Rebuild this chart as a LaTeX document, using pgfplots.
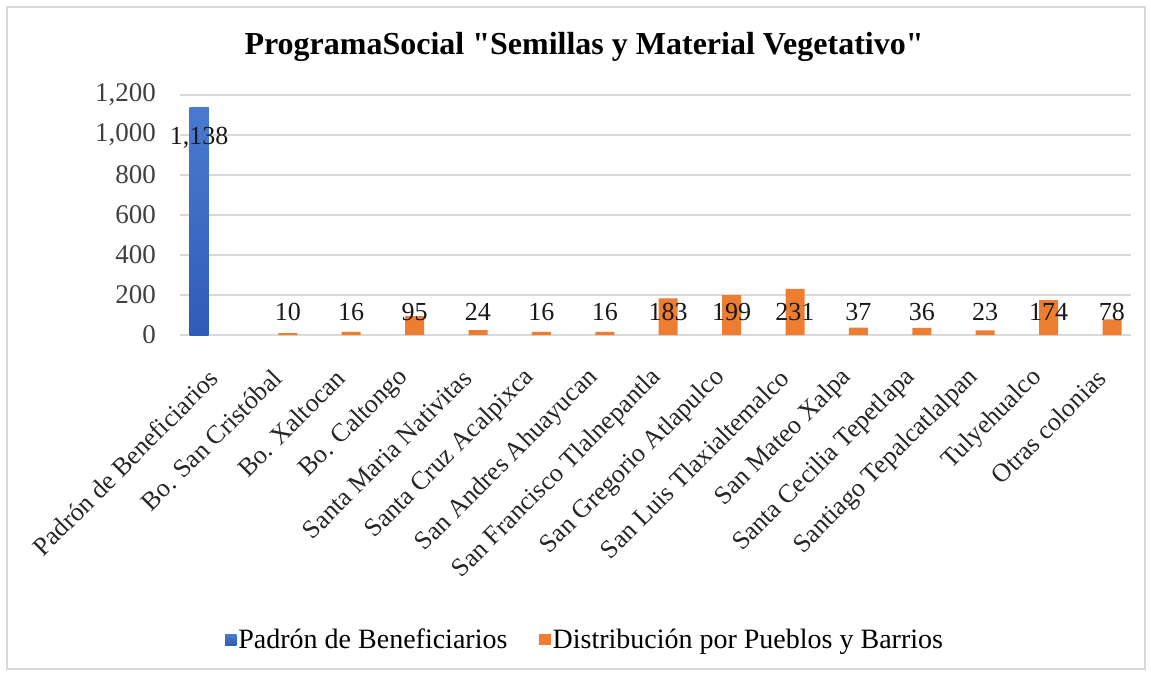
\documentclass[border=0pt]{standalone}
\usepackage{fontspec}
\setmainfont{Liberation Serif}
\newfontfamily\titlefont{Liberation Serif}[Ligatures=ResetAll]
\usepackage{pgfplots}
\usepackage{pgfplotstable}
\pgfplotsset{compat=1.18}

\definecolor{barblue}{HTML}{4070C4}
\definecolor{bluetop}{HTML}{4A7AD0}
\definecolor{bluebot}{HTML}{2F5DB6}
\definecolor{barorange}{HTML}{ED7D31}
\definecolor{gridgray}{HTML}{D9D9D9}
\definecolor{ticktext}{HTML}{404040}

% padron de beneficiarios
\pgfplotstableread{
x val
0 1138
}\padron
% distribucion por pueblos y barrios
\pgfplotstableread{
x val
1 10
2 16
3 95
4 24
5 16
6 16
7 183
8 199
9 231
10 37
11 36
12 23
13 174
14 78
}\distrib

\begin{document}
\begin{tikzpicture}
\path[use as bounding box, fill=white] (0,0) rectangle (575.5pt,338.5pt);
\draw[gridgray, line width=0.8pt] (3.5pt,4pt) rectangle (572.5pt,335pt);

\node[font=\titlefont\fontsize{16}{19}\selectfont\bfseries] at (292pt,315pt)
  {ProgramaSocial "Semillas y Material Vegetativo"};

\begin{axis}[
    at={(90pt,171pt)}, anchor=south west,
    scale only axis,
    width=475.5pt, height=120pt,
    xmin=-0.5, xmax=14.5,
    ymin=0, ymax=1200,
    ytick={0,200,...,1200},
    xtick={0,...,14},
    xticklabels={Padrón de Beneficiarios, Bo. San Cristóbal, Bo. Xaltocan, Bo. Caltongo,
      Santa Maria Nativitas, Santa Cruz Acalpixca, San Andres Ahuayucan,
      San Francisco Tlalnepantla, San Gregorio Atlapulco, San Luis Tlaxialtemalco,
      San Mateo Xalpa, Santa Cecilia Tepetlapa, Santiago Tepalcatlalpan,
      Tulyehualco, Otras colonias},
    /pgf/number format/assume math mode=true,
    /pgf/number format/1000 sep={,},
    ymajorgrids,
    grid style={gridgray, line width=0.8pt},
    axis x line*=bottom,
    axis y line*=left,
    x axis line style={gridgray, line width=0.8pt},
    y axis line style={draw=none},
    major tick length=0pt,
    tick style={draw=none},
    yticklabel style={font=\fontsize{13.5}{15}\selectfont, text=ticktext, xshift=-8.5pt},
    xticklabel style={font=\fontsize{13}{15}\selectfont, text=black!85,
      xshift=3.5pt, yshift=-17pt, rotate=45, anchor=east},
    sq legend/.style={legend image code/.code={
      \fill[##1] (0pt,-2.8pt) rectangle (5.6pt,2.8pt);}},
    legend style={at={(0.426,-1.27)}, anchor=center, draw=none, fill=none,
      legend columns=2, font=\fontsize{14}{16}\selectfont,
      /tikz/every even column/.append style={column sep=15pt},
      inner sep=0pt, nodes={inner sep=1pt}},
    nodes near coords align={center},
    every node near coord/.append style={font=\fontsize{13}{15}\selectfont, text=black!90},
]
\addplot[ybar, bar width=9.5pt, bar shift=-6.35pt, fill=barblue, draw=none,
  top color=bluetop, bottom color=bluebot, sq legend]
  table[x=x, y=val] {\padron};
\addlegendentry{Padrón de Beneficiarios}
\addplot[ybar, bar width=9.5pt, bar shift=6.35pt, fill=barorange, draw=none, sq legend]
  table[x=x, y=val] {\distrib};
\addlegendentry{Distribución por Pueblos y Barrios}

% data labels, set at a fixed height as in the original
\addplot[forget plot, only marks, mark=*, mark size=0pt, mark options={draw=none, fill=none},
  nodes near coords, point meta=explicit]
  table[x expr=\thisrow{x}-0.2, y expr=985, meta=val] {\padron};
\addplot[forget plot, only marks, mark=*, mark size=0pt, mark options={draw=none, fill=none},
  nodes near coords, point meta=explicit]
  table[x expr=\thisrow{x}+0.2, y expr=115, meta=val] {\distrib};
\end{axis}
\end{tikzpicture}
\end{document}
